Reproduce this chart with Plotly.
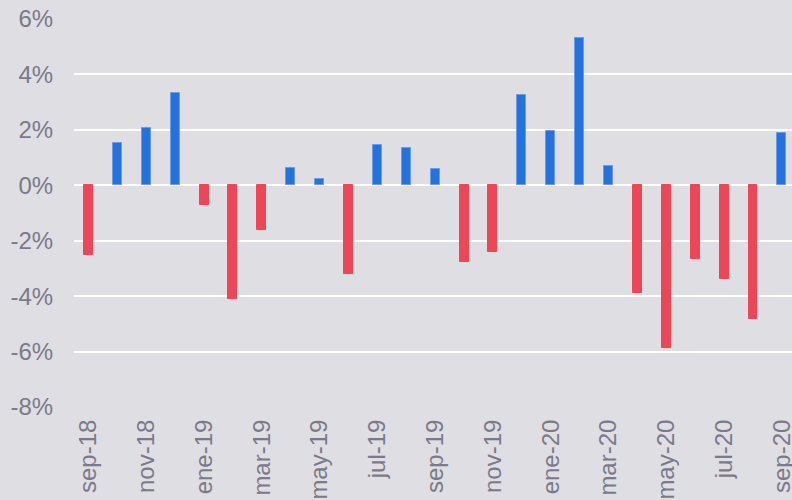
import plotly.graph_objects as go

months = ["sep-18", "oct-18", "nov-18", "dic-18", "ene-19", "feb-19", "mar-19", "abr-19",
          "may-19", "jun-19", "jul-19", "ago-19", "sep-19", "oct-19", "nov-19", "dic-19",
          "ene-20", "feb-20", "mar-20", "abr-20", "may-20", "jun-20", "jul-20", "ago-20",
          "sep-20"]
values = [-2.5, 1.52, 2.08, 3.32, -0.72, -4.1, -1.62, 0.62,
          0.24, -3.19, 1.45, 1.34, 0.58, -2.78, -2.42, 3.26,
          1.97, 5.33, 0.68, -3.9, -5.86, -2.67, -3.37, -4.82,
          1.88]
tick_labels = months[::2]
y_ticks = [-8, -6, -4, -2, 0, 2, 4, 6]

BLUE = "#2571DE"
RED = "#EC4659"
BG = "#DFDEE2"
TXT = "#7B7A8A"

colors = [BLUE if v >= 0 else RED for v in values]
line_colors = ["#6A9BE6" if v >= 0 else RED for v in values]

fig = go.Figure(go.Bar(
    x=months, y=[v / 100 for v in values],
    marker=dict(color=colors, line=dict(color=line_colors, width=1)),
    width=0.31,
))

fig.update_layout(
    width=792, height=500,
    margin=dict(l=74, r=0, t=19, b=93),
    paper_bgcolor=BG, plot_bgcolor=BG,
    font=dict(family="Liberation Sans, Arial", size=24, color=TXT),
    showlegend=False,
    bargap=0,
)
fig.update_xaxes(
    type="category",
    tickmode="array", tickvals=tick_labels, ticktext=tick_labels,
    tickangle=-90,
    range=[-0.5, 24.35],
    showgrid=False, zeroline=False, showline=False,
    ticks="outside", ticklen=2, tickcolor=BG,
    automargin=False,
)
fig.update_yaxes(
    range=[-0.08, 0.06],
    tickvals=[t / 100 for t in y_ticks],
    ticktext=[f"{t}%" for t in y_ticks],
    showgrid=True, gridcolor="#FFFFFF", gridwidth=2,
    zeroline=True, zerolinecolor="#FFFFFF", zerolinewidth=2,
    ticks="outside", ticklen=15, tickcolor=BG,
    showline=False,
    automargin=False,
)

fig.write_html(
    "out.html",
    config={"displayModeBar": False},
    post_script="document.body.style.margin='0';document.body.style.overflow='hidden';document.body.style.background='" + BG + "';",
)
